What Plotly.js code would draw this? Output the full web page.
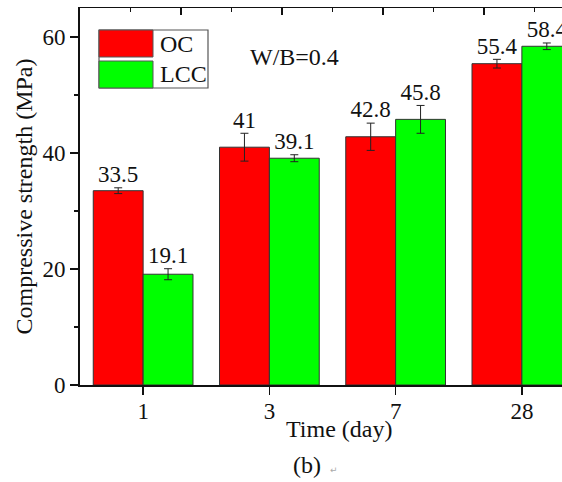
<!DOCTYPE html>
<html>
<head>
<meta charset="utf-8">
<script src="https://cdn.plot.ly/plotly-3.0.1.min.js"></script>
<style>
  html, body { margin: 0; padding: 0; background: #fff; overflow: hidden; }
  #chart { width: 562px; height: 482px; }
</style>
</head>
<body>
<div id="chart"></div>
<script>
// ---- data ----
const categories = ['1', '3', '7', '28'];
const seriesNames = ['OC', 'LCC'];
const ocValues = [33.5, 41, 42.8, 55.4];
const lccValues = [19.1, 39.1, 45.8, 58.4];
const ocErrors = [0.5, 2.4, 2.35, 0.75];
const lccErrors = [0.95, 0.6, 2.4, 0.57];
const xAxisTitle = 'Time (day)';
const yAxisTitle = 'Compressive strength (MPa)';
const noteText = 'W/B=0.4';
const captionText = '(b)';

// ---- layout constants ----
const W = 562, H = 482;
const M = { l: 80, r: 0, t: 8, b: 97 };
const plotW = W - M.l - M.r, plotH = H - M.t - M.b;
const bargap = 0.21;
const catPx = 126.25;             // pixel width of one category slot
const xMax = -0.5 + plotW / catPx; // chart is cropped at right edge
const topMajorPx = 101;
const yMax = 65;
const FONT = '"Liberation Serif", "Times New Roman", serif';
const red = '#ff0000', green = '#00ff00';

const idx = categories.map((_, i) => i);
const half = (1 - bargap) / 4;
const px2x = px => (px - M.l) / plotW;
const px2y = py => (H - M.b - py) / plotH;

const errCommon = { type: 'data', visible: true, color: '#222', thickness: 1, width: 4 };

const traces = [
  {
    type: 'bar', showlegend: false, hoverinfo: 'skip',
    name: seriesNames[0], x: idx, y: ocValues,
    marker: { color: red, line: { color: '#333', width: 1 } },
    error_y: Object.assign({ array: ocErrors }, errCommon)
  },
  {
    type: 'bar', showlegend: false, hoverinfo: 'skip',
    name: seriesNames[1], x: idx, y: lccValues,
    marker: { color: green, line: { color: '#333', width: 1 } },
    error_y: Object.assign({ array: lccErrors }, errCommon)
  },
  {
    type: 'scatter', mode: 'text', showlegend: false, hoverinfo: 'skip',
    x: idx.map(i => i - half), y: ocValues.map((v, i) => v + ocErrors[i]),
    text: ocValues.map(v => String(v)), textposition: 'top center',
    textfont: { family: FONT, size: 23, color: '#111' }, cliponaxis: false
  },
  {
    type: 'scatter', mode: 'text', showlegend: false, hoverinfo: 'skip',
    x: idx.map(i => i + half), y: lccValues.map((v, i) => v + lccErrors[i]),
    text: lccValues.map(v => String(v)), textposition: 'top center',
    textfont: { family: FONT, size: 23, color: '#111' }, cliponaxis: false
  },
  // invisible trace to activate the top axis
  { type: 'scatter', x: [0], y: [0], xaxis: 'x2', mode: 'markers',
    marker: { opacity: 0 }, showlegend: false, hoverinfo: 'skip' }
];

// custom legend (large swatches like the original)
const shapes = [
  { type: 'rect', xref: 'paper', yref: 'paper',
    x0: px2x(99), x1: px2x(208), y0: px2y(88), y1: px2y(30),
    line: { color: '#555', width: 1.2 }, fillcolor: '#fff', layer: 'above' },
  { type: 'rect', xref: 'paper', yref: 'paper',
    x0: px2x(99), x1: px2x(153), y0: px2y(57), y1: px2y(30),
    line: { color: '#555', width: 1 }, fillcolor: red, layer: 'above' },
  { type: 'rect', xref: 'paper', yref: 'paper',
    x0: px2x(99), x1: px2x(153), y0: px2y(88), y1: px2y(61),
    line: { color: '#555', width: 1 }, fillcolor: green, layer: 'above' }
];

const annotations = [
  { xref: 'paper', yref: 'paper', x: px2x(158), y: px2y(44), xanchor: 'left', yanchor: 'middle',
    text: seriesNames[0], showarrow: false, font: { family: FONT, size: 24, color: '#111' } },
  { xref: 'paper', yref: 'paper', x: px2x(158), y: px2y(74), xanchor: 'left', yanchor: 'middle',
    text: seriesNames[1], showarrow: false, font: { family: FONT, size: 24, color: '#111' } },
  { xref: 'paper', yref: 'paper', x: px2x(294), y: px2y(57), xanchor: 'center', yanchor: 'middle',
    text: noteText, showarrow: false, font: { family: FONT, size: 24, color: '#111' } },
  { xref: 'paper', yref: 'paper', x: px2x(339), y: px2y(429), xanchor: 'center', yanchor: 'middle',
    text: xAxisTitle, showarrow: false, font: { family: FONT, size: 24, color: '#111' } },
  { xref: 'paper', yref: 'paper', x: px2x(307), y: px2y(465), xanchor: 'center', yanchor: 'middle',
    text: captionText, showarrow: false, font: { family: FONT, size: 24, color: '#111' } },
  { xref: 'paper', yref: 'paper', x: px2x(334), y: px2y(470), xanchor: 'center', yanchor: 'middle',
    text: '\u21B5', showarrow: false, font: { family: 'DejaVu Sans', size: 9, color: '#aaa' } }
];

const layout = {
  width: W, height: H,
  margin: M,
  paper_bgcolor: '#fff', plot_bgcolor: '#fff',
  barmode: 'group', bargap: bargap, bargroupgap: 0,
  font: { family: FONT, color: '#111' },
  showlegend: false,
  xaxis: {
    range: [-0.5, xMax], tickvals: idx, ticktext: categories,
    showline: true, linecolor: '#111', linewidth: 2,
    ticks: 'outside', ticklen: 8, tickwidth: 1.5, tickcolor: '#111',
    showgrid: false, zeroline: false, fixedrange: true,
    ticklabelstandoff: -4,
    tickfont: { family: FONT, size: 23, color: '#111' }
  },
  xaxis2: {
    overlaying: 'x', side: 'top', range: [0, plotW / topMajorPx], dtick: 1, tick0: 0,
    showline: true, linecolor: '#111', linewidth: 1.5,
    ticks: 'inside', ticklen: 7, tickwidth: 1.5, tickcolor: '#111',
    minor: { dtick: 0.5, ticks: 'inside', ticklen: 4, tickwidth: 1.2, tickcolor: '#111' },
    showticklabels: false, showgrid: false, zeroline: false
  },
  yaxis: {
    range: [0, yMax], dtick: 20, tick0: 0,
    showline: true, linecolor: '#111', linewidth: 2,
    ticks: 'outside', ticklen: 8, tickwidth: 1.5, tickcolor: '#111',
    minor: { dtick: 10, ticks: 'outside', ticklen: 4, tickwidth: 1.2, tickcolor: '#111' },
    showgrid: false, zeroline: false,
    tickfont: { family: FONT, size: 23, color: '#111' },
    title: { text: yAxisTitle, font: { family: FONT, size: 24, color: '#111' }, standoff: 3 }
  },
  shapes: shapes,
  annotations: annotations
};

Plotly.newPlot('chart', traces, layout, { displayModeBar: false, staticPlot: true });
</script>
</body>
</html>
